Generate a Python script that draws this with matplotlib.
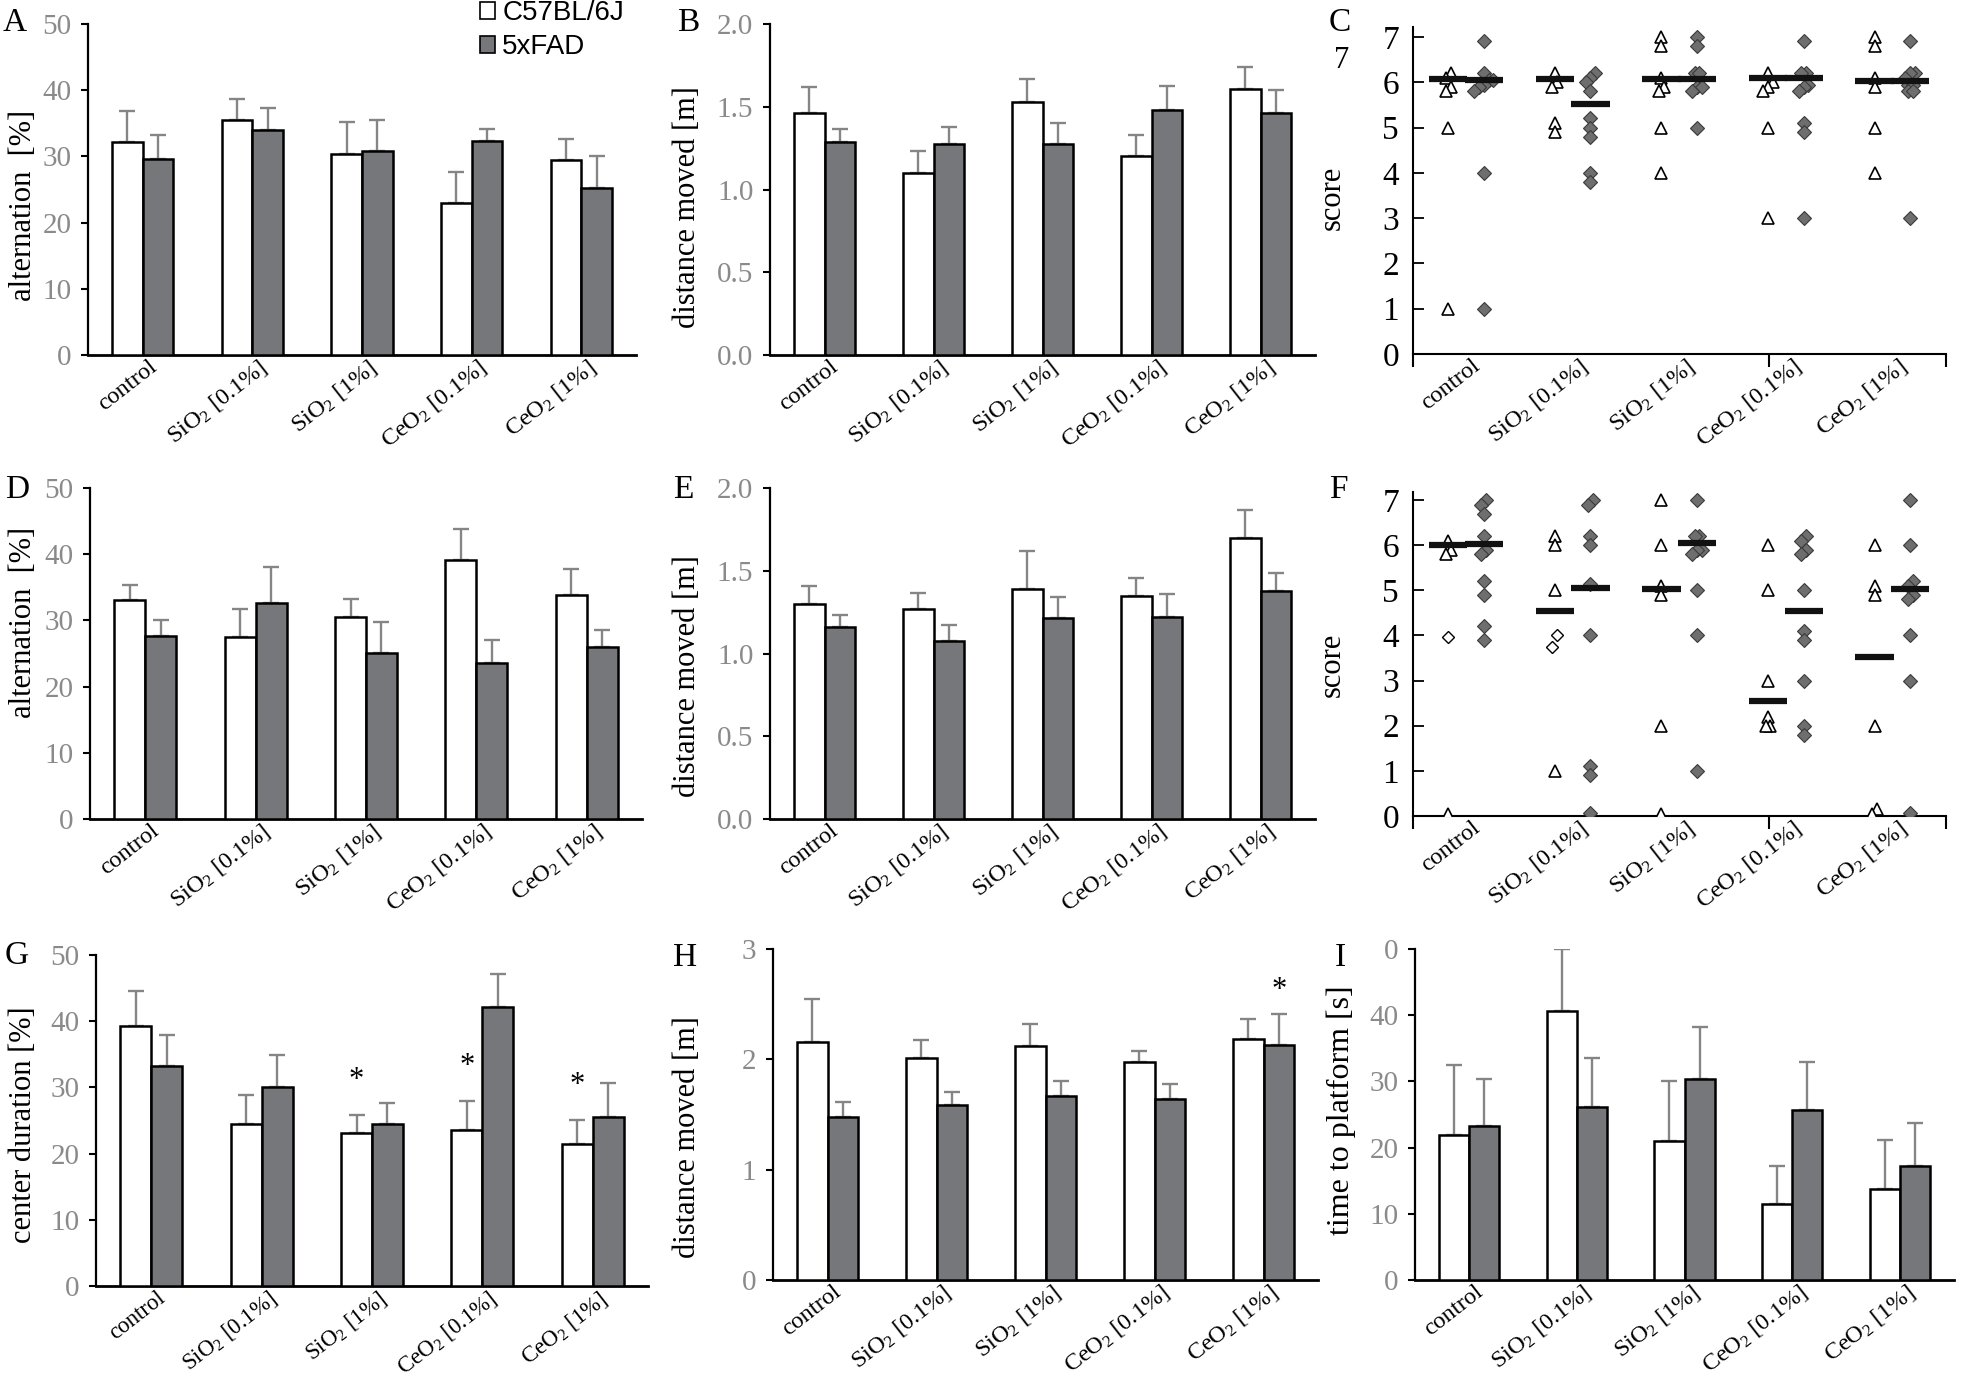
import matplotlib
matplotlib.use('Agg')
import matplotlib.pyplot as plt
import numpy as np
from matplotlib.patches import Patch
import matplotlib.transforms as mtransforms

plt.rcParams['font.family'] = ['Liberation Serif', 'DejaVu Serif']
plt.rcParams['mathtext.fontset'] = 'custom'
plt.rcParams['mathtext.rm'] = 'Liberation Serif'
plt.rcParams['mathtext.it'] = 'Liberation Serif:italic'
plt.rcParams['mathtext.bf'] = 'Liberation Serif:bold'

W, H = 1968, 1380

# ---------------- data ----------------
categories = ['control', r'SiO$_2$ [0.1%]', r'SiO$_2$ [1%]', r'CeO$_2$ [0.1%]', r'CeO$_2$ [1%]']
groups = ['C57BL/6J', '5xFAD']

# A: alternation [%]
a_wt = [32.1, 35.5, 30.4, 23.0, 29.4]
a_wt_sem = [4.7, 3.2, 4.8, 4.6, 3.2]
a_fad = [29.6, 34.0, 30.8, 32.3, 25.2]
a_fad_sem = [3.7, 3.3, 4.7, 1.8, 4.8]

# B: distance moved [m]
b_wt = [1.46, 1.10, 1.53, 1.20, 1.61]
b_wt_sem = [0.16, 0.13, 0.14, 0.13, 0.13]
b_fad = [1.285, 1.275, 1.275, 1.48, 1.46]
b_fad_sem = [0.08, 0.10, 0.125, 0.145, 0.14]

# C: score
c_wt = [[6.2, 6.1, 5.9, 5.8, 5.0, 1.0],
        [6.2, 6.0, 5.9, 5.1, 4.9],
        [7.0, 6.8, 6.1, 5.9, 5.8, 5.0, 4.0],
        [6.2, 6.0, 5.9, 5.8, 5.0, 3.0],
        [7.0, 6.8, 6.1, 5.9, 5.0, 4.0]]
c_fad = [[6.9, 6.2, 6.05, 6.05, 5.95, 5.9, 5.8, 4.0, 1.0],
         [6.2, 6.1, 6.0, 5.8, 5.2, 5.0, 4.8, 4.0, 3.8],
         [7.0, 6.8, 6.2, 6.2, 5.9, 5.9, 5.8, 5.0],
         [6.9, 6.2, 6.2, 5.95, 5.9, 5.8, 5.1, 4.9, 3.0],
         [6.9, 6.2, 6.2, 6.1, 5.95, 5.95, 5.8, 5.8, 3.0]]
c_wt_med = [6.07, 6.07, 6.07, 6.1, 6.03]
c_fad_med = [6.04, 5.53, 6.07, 6.1, 6.03]

# D: alternation [%]
d_wt = [33.1, 27.5, 30.5, 39.1, 33.9]
d_wt_sem = [2.3, 4.2, 2.7, 4.7, 3.8]
d_fad = [27.7, 32.7, 25.1, 23.6, 26.0]
d_fad_sem = [2.3, 5.4, 4.6, 3.5, 2.5]

# E: distance moved [m]
e_wt = [1.30, 1.27, 1.39, 1.35, 1.70]
e_wt_sem = [0.107, 0.097, 0.227, 0.106, 0.167]
e_fad = [1.162, 1.075, 1.212, 1.222, 1.379]
e_fad_sem = [0.07, 0.097, 0.129, 0.137, 0.106]

# F: score
f_wt = [[6.1, 5.9, 5.8, 0.05],
        [6.2, 6.0, 5.0, 1.0],
        [7.0, 6.0, 5.1, 4.9, 2.0, 0.05],
        [6.0, 5.0, 3.0, 2.2, 2.0, 2.0],
        [6.0, 5.1, 4.9, 2.0, 0.15, 0.05]]
f_wt_open = [[3.97], [4.0, 3.75], [], [], []]
f_fad = [[7.0, 6.9, 6.7, 6.2, 5.9, 5.8, 5.2, 4.9, 4.2, 3.9],
         [7.0, 6.9, 6.2, 6.0, 5.15, 4.0, 1.1, 0.9, 0.07],
         [7.0, 6.2, 6.2, 5.9, 5.9, 5.8, 5.0, 4.0, 1.0],
         [6.2, 6.1, 5.9, 5.8, 5.0, 4.1, 3.9, 3.0, 2.0, 1.8],
         [7.0, 6.0, 5.2, 5.1, 4.9, 4.8, 4.0, 3.0, 0.07]]
f_wt_med = [6.0, 4.55, 5.04, 2.55, 3.53]
f_fad_med = [6.03, 5.05, 6.06, 4.55, 5.04]

# G: center duration [%]
g_wt = [39.3, 24.4, 23.1, 23.6, 21.4]
g_wt_sem = [5.3, 4.4, 2.8, 4.4, 3.7]
g_fad = [33.3, 30.1, 24.4, 42.1, 25.6]
g_fad_sem = [4.6, 4.8, 3.2, 5.0, 5.0]
g_star_wt = [False, False, True, True, True]

# H: distance moved [m]
h_wt = [2.16, 2.01, 2.12, 1.98, 2.18]
h_wt_sem = [0.387, 0.163, 0.202, 0.091, 0.182]
h_fad = [1.48, 1.585, 1.672, 1.642, 2.129]
h_fad_sem = [0.136, 0.115, 0.133, 0.136, 0.284]
h_star_fad = [False, False, False, False, True]

# I: time to platform [s]
i_wt = [21.9, 40.7, 21.0, 11.5, 13.8]
i_wt_sem = [10.6, 9.3, 9.1, 5.7, 7.4]
i_fad = [23.2, 26.2, 30.4, 25.7, 17.2]
i_fad_sem = [7.2, 7.3, 7.8, 7.3, 6.5]

# ---------------- style ----------------
WHITE = 'white'
GRAY = '#76777b'
ERR = '#858585'
TICKGRAY = '#8a8a8a'

fig = plt.figure(figsize=(W / 100, H / 100), dpi=100)


def add_ax(left, top, right, bottom):
    return fig.add_axes([left / W, 1 - bottom / H, (right - left) / W, (bottom - top) / H])


def style_xlabels(ax, size=17.5):
    x = np.arange(len(categories))
    ax.set_xticks(x)
    ax.set_xticklabels(categories, rotation=38, ha='right', va='top',
                       rotation_mode='anchor', fontsize=size)
    off = mtransforms.ScaledTranslation(5 / 100, 0, fig.dpi_scale_trans)
    for lab in ax.get_xticklabels():
        lab.set_transform(lab.get_transform() + off)
    ax.set_xlim(-0.5, 4.5)


def set_ylab(ax, text, xy, size=22):
    ax.set_ylabel(text, fontsize=size)
    ax.yaxis.set_label_coords(xy[0] / W, 1 - xy[1] / H, transform=fig.transFigure)


def bar_panel(ax, wt, wt_sem, fad, fad_sem, ylim, yticks, ylabel, label_xy, yticklabels=None,
              xlab_size=17.5, ylab_size=22):
    x = np.arange(len(categories))
    w = 0.28
    ax.errorbar(x - w / 2, wt, yerr=[np.zeros(len(x)), wt_sem], fmt='none', ecolor=ERR,
                elinewidth=1.7, capsize=6, capthick=1.7, zorder=2)
    ax.errorbar(x + w / 2, fad, yerr=[np.zeros(len(x)), fad_sem], fmt='none', ecolor=ERR,
                elinewidth=1.7, capsize=6, capthick=1.7, zorder=2)
    ax.bar(x - w / 2, wt, w, color=WHITE, edgecolor='black', linewidth=1.8, zorder=3)
    ax.bar(x + w / 2, fad, w, color=GRAY, edgecolor='black', linewidth=1.8, zorder=3)
    ax.set_ylim(*ylim)
    ax.set_yticks(yticks)
    if yticklabels is not None:
        ax.set_yticklabels(yticklabels)
    for s in ['top', 'right']:
        ax.spines[s].set_visible(False)
    ax.spines['left'].set_linewidth(1.6)
    ax.spines['bottom'].set_linewidth(2.0)
    ax.tick_params(axis='y', direction='out', length=5, width=1.5, labelsize=21,
                   labelcolor=TICKGRAY, pad=7)
    ax.tick_params(axis='x', length=0, pad=1)
    style_xlabels(ax, xlab_size)
    set_ylab(ax, ylabel, label_xy, ylab_size)


def spread(vals, step=0.045, tol=0.12):
    order = np.argsort(vals)
    sv = np.asarray(vals)[order]
    offs = np.zeros(len(sv))
    i = 0
    while i < len(sv):
        j = i
        while j + 1 < len(sv) and sv[j + 1] - sv[j] < tol:
            j += 1
        n = j - i + 1
        for k in range(n):
            offs[i + k] = (k - (n - 1) / 2) * step
        i = j + 1
    res = np.zeros(len(sv))
    res[order] = offs
    return res


def score_panel(ax, wt, fad, wt_med, fad_med, ylim_top, label_xy, wt_open=None):
    dx_wt, dx_fad = -0.17, 0.165
    for k in range(len(categories)):
        v = np.asarray(wt[k])
        ax.plot(k + dx_wt + spread(v), v, linestyle='none', marker='^', markersize=9,
                markerfacecolor='white', markeredgecolor='black', markeredgewidth=1.2, zorder=3)
        if wt_open is not None and len(wt_open[k]) > 0:
            vo = np.asarray(wt_open[k])
            ax.plot(k + dx_wt + spread(vo, tol=0.3), vo, linestyle='none', marker='D', markersize=6.5,
                    markerfacecolor='white', markeredgecolor='black', markeredgewidth=1.0, zorder=3)
        vf = np.asarray(fad[k])
        ax.plot(k + dx_fad + spread(vf), vf, linestyle='none', marker='D', markersize=7,
                markerfacecolor='#6e6e6e', markeredgecolor='#3a3a3a', markeredgewidth=0.8, zorder=3)
        ax.hlines(wt_med[k], k + dx_wt - 0.18, k + dx_wt + 0.18, color='#111111', linewidth=4.5, zorder=4)
        ax.hlines(fad_med[k], k + dx_fad - 0.18, k + dx_fad + 0.18, color='#111111', linewidth=4.5, zorder=4)
    ax.set_ylim(0, ylim_top)
    ax.set_yticks(range(0, 8))
    for s in ['top', 'right']:
        ax.spines[s].set_visible(False)
    ax.spines['left'].set_linewidth(1.5)
    ax.spines['bottom'].set_linewidth(1.5)
    ax.tick_params(axis='y', direction='in', length=8, width=1.3, labelsize=24, pad=10)
    ax.tick_params(axis='x', length=0, pad=1)
    ax.set_xticks([-0.5, 2.835, 4.5], minor=True)
    ax.tick_params(axis='x', which='minor', direction='out', length=9, width=1.5)
    style_xlabels(ax)
    set_ylab(ax, 'score', label_xy, size=22)


# ---------------- panels ----------------
axA = add_ax(88, 24, 636, 355)
bar_panel(axA, a_wt, a_wt_sem, a_fad, a_fad_sem, (0, 50), range(0, 51, 10),
          'alternation  [%]', (38, 205))
axB = add_ax(770, 24, 1315, 355)
bar_panel(axB, b_wt, b_wt_sem, b_fad, b_fad_sem, (0, 2.0), np.arange(0, 2.01, 0.5),
          'distance moved [m]', (702, 207), ['0.0', '0.5', '1.0', '1.5', '2.0'])
axC = add_ax(1413, 27, 1946, 354)
score_panel(axC, c_wt, c_fad, c_wt_med, c_fad_med, 7.22, (1347, 198))

axD = add_ax(90, 488, 642, 819)
bar_panel(axD, d_wt, d_wt_sem, d_fad, d_fad_sem, (0, 50), range(0, 51, 10),
          'alternation  [%]', (38, 622))
axE = add_ax(770, 488, 1315, 819)
bar_panel(axE, e_wt, e_wt_sem, e_fad, e_fad_sem, (0, 2.0), np.arange(0, 2.01, 0.5),
          'distance moved [m]', (702, 676), ['0.0', '0.5', '1.0', '1.5', '2.0'])
axF = add_ax(1413, 492, 1946, 816)
score_panel(axF, f_wt, f_fad, f_wt_med, f_fad_med, 7.18, (1347, 665), wt_open=f_wt_open)

axG = add_ax(96, 955, 648, 1286)
bar_panel(axG, g_wt, g_wt_sem, g_fad, g_fad_sem, (0, 50), range(0, 51, 10),
          'center duration [%]', (38, 1125), xlab_size=16.5)
axH = add_ax(773, 949, 1318, 1280)
bar_panel(axH, h_wt, h_wt_sem, h_fad, h_fad_sem, (0, 3), range(0, 4),
          'distance moved [m]', (702, 1137))
axI = add_ax(1415, 949, 1954, 1280)
bar_panel(axI, i_wt, i_wt_sem, i_fad, i_fad_sem, (0, 50), range(0, 51, 10),
          'time to platform [s]', (1356, 1110), ['0', '10', '20', '30', '40', '0'],
          ylab_size=23)

# significance asterisks
w = 0.28
for k in range(len(categories)):
    if g_star_wt[k]:
        axG.text(k - w / 2, g_wt[k] + g_wt_sem[k] + 3.0, '*', ha='center', va='bottom', fontsize=22)
    if h_star_fad[k]:
        axH.text(k + w / 2, h_fad[k] + h_fad_sem[k] + 0.08, '*', ha='center', va='bottom', fontsize=22)

# legend
handles = [Patch(facecolor=WHITE, edgecolor='black', linewidth=1.2, label=groups[0]),
           Patch(facecolor=GRAY, edgecolor='black', linewidth=1.2, label=groups[1])]
fig.legend(handles=handles, loc='upper left', bbox_to_anchor=(480 / W, 1 - 0 / H),
           frameon=False, prop={'family': 'Liberation Sans', 'size': 20},
           handlelength=0.55, handleheight=0.55, handletextpad=0.25, labelspacing=0.3,
           borderpad=0, borderaxespad=0)

# panel letters
letters = [('A', 15, 23), ('B', 688, 23), ('C', 1340, 23),
           ('D', 17, 490), ('E', 683, 490), ('F', 1338, 490),
           ('G', 17, 956), ('H', 685, 958), ('I', 1340, 958)]
for t, x, y in letters:
    fig.text(x / W, 1 - y / H, t, ha='center', va='center', fontsize=24)
fig.text(1342 / W, 1 - 60 / H, '7', ha='center', va='center', fontsize=22)

fig.savefig('out.png', dpi=100)
